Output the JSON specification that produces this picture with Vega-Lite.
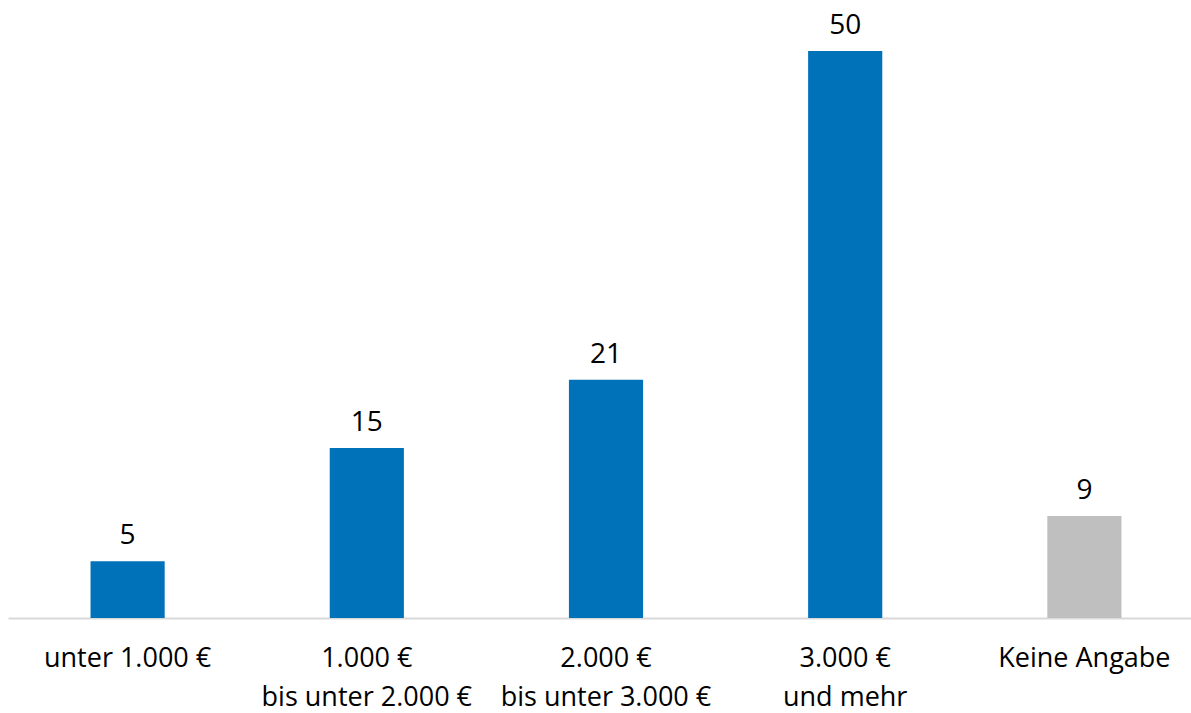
{
  "$schema": "https://vega.github.io/schema/vega-lite/v6.json",
  "width": 1196,
  "height": 567,
  "padding": {"left": 8, "top": 51, "right": 0, "bottom": 95},
  "autosize": {"type": "none"},
  "background": "white",
  "config": {"view": {"stroke": null}, "font": "Open Sans"},
  "data": {"values": [
    {"kategorie": "unter 1.000 €", "wert": 5, "gruppe": "a"},
    {"kategorie": "1.000 €|bis unter 2.000 €", "wert": 15, "gruppe": "a"},
    {"kategorie": "2.000 €|bis unter 3.000 €", "wert": 21, "gruppe": "a"},
    {"kategorie": "3.000 €|und mehr", "wert": 50, "gruppe": "a"},
    {"kategorie": "Keine Angabe", "wert": 9, "gruppe": "b"}
  ]},
  "encoding": {
    "x": {"field": "kategorie", "type": "nominal", "sort": null,
      "scale": {"paddingInner": 0.69, "paddingOuter": 0.345},
      "axis": {"title": null, "labelAngle": 0, "ticks": false, "domainColor": "#D9D9D9", "domainWidth": 2,
        "labelExpr": "split(datum.label, '|')", "labelFontSize": 27, "labelColor": "#000000", "labelLimit": 0,
        "labelPadding": 27, "labelLineHeight": 39, "labelBaseline": "top", "labelFont": "Open Sans", "labelOverlap": false}},
    "y": {"field": "wert", "type": "quantitative", "scale": {"domain": [0, 50]}, "axis": null}
  },
  "layer": [
    {"mark": {"type": "bar"},
     "encoding": {"color": {"field": "gruppe", "type": "nominal", "scale": {"domain": ["a", "b"], "range": ["#0072B9", "#BFBFBF"]}, "legend": null}}},
    {"mark": {"type": "text", "baseline": "bottom", "dy": -11, "fontSize": 28, "color": "#000000", "font": "Open Sans"},
     "encoding": {"text": {"field": "wert", "type": "quantitative"}}}
  ]
}
